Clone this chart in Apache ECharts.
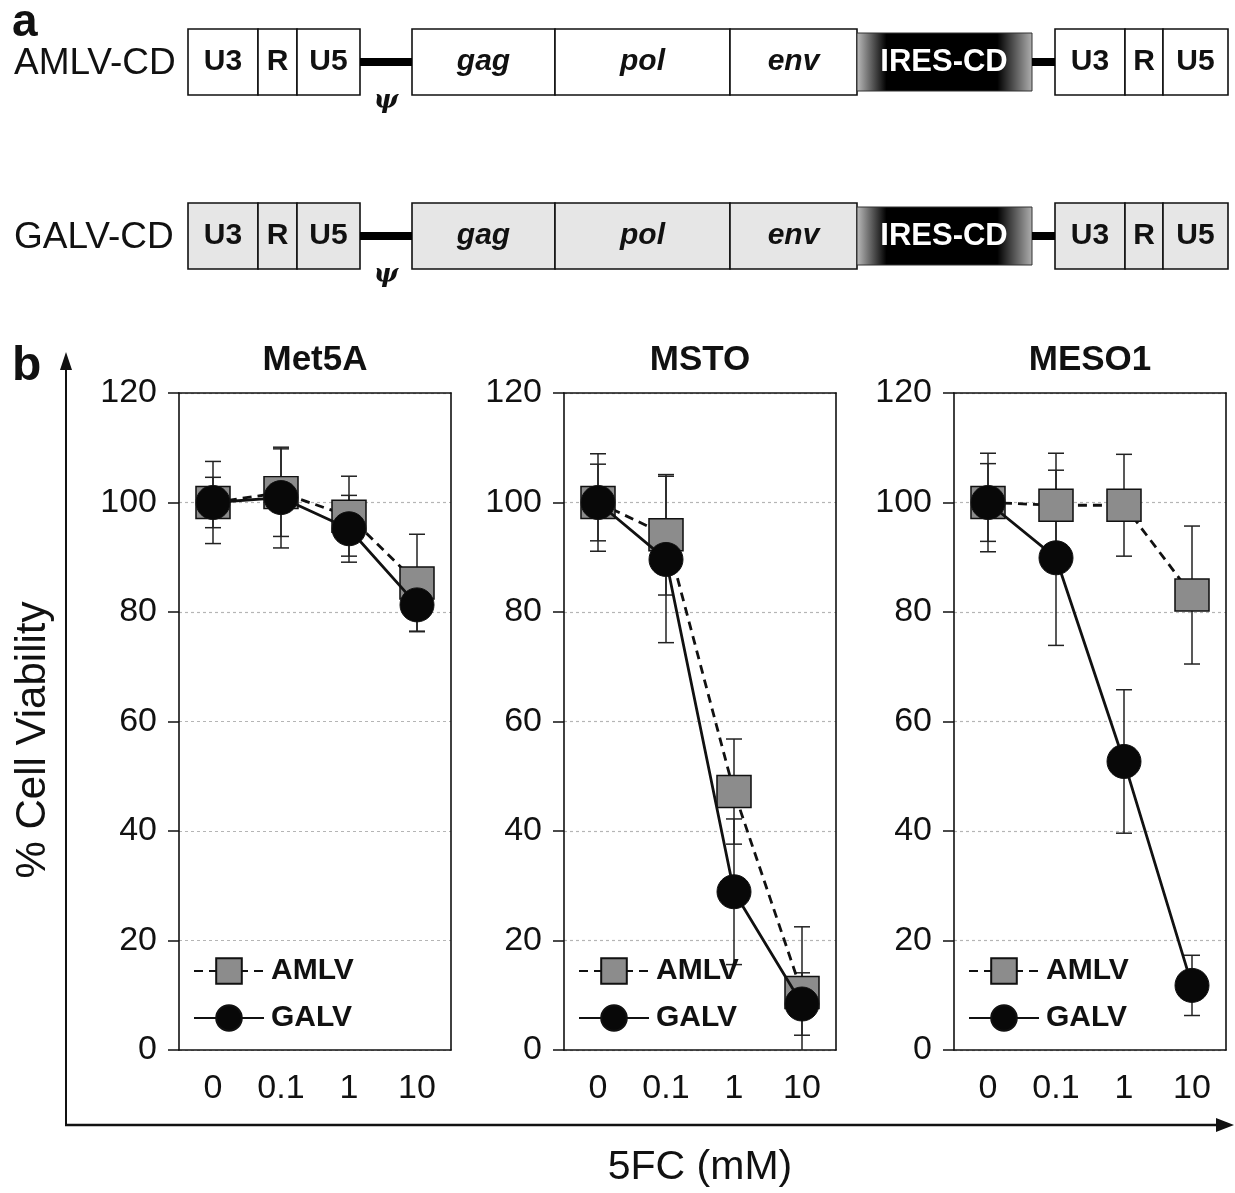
<!DOCTYPE html>
<html>
<head>
<meta charset="utf-8">
<title>AMLV-CD / GALV-CD</title>
<script src="https://cdn.jsdelivr.net/npm/echarts@6/dist/echarts.min.js"></script>
<style>
  html, body { margin: 0; padding: 0; background: #fff; }
  #chart { width: 1235px; height: 1193px; }
</style>
</head>
<body>
<div id="chart"></div>
<script>
// tick labels / categories
const doses = ['0', '0.1', '1', '10']
const cellLines = ['Met5A', 'MSTO', 'MESO1']

// % cell viability
const met5aAmlv = [100, 101.8, 97.5, 85.3]
const met5aGalv = [100, 100.9, 95.2, 81.3]
const met5aAmlvErr = [7.5, 8, 7.3, 8.9]
const met5aGalvErr = [4.6, 9.2, 6.1, 4.8]

const mstoAmlv = [100, 94.1, 47.2, 10.5]
const mstoGalv = [100, 89.6, 28.9, 8.4]
const mstoAmlvErr = [8.9, 11, 9.6, 12]
const mstoGalvErr = [7, 15.2, 13.3, 5.7]

const meso1Amlv = [100, 99.5, 99.5, 83.1]
const meso1Galv = [100, 89.9, 52.7, 11.8]
const meso1AmlvErr = [9, 9.5, 9.3, 12.6]
const meso1GalvErr = [7.1, 16, 13.1, 5.5]

const amlvMeans = [met5aAmlv, mstoAmlv, meso1Amlv]
const galvMeans = [met5aGalv, mstoGalv, meso1Galv]
const amlvErrs = [met5aAmlvErr, mstoAmlvErr, meso1AmlvErr]
const galvErrs = [met5aGalvErr, mstoGalvErr, meso1GalvErr]

const FONT = '"Liberation Sans", Arial, Helvetica, sans-serif'
const INK = '#111'

const gridLefts = [179, 564, 954]
const gridWidth = 272
const gridTop = 393
const gridHeight = 657

function errData(means, errs) {
  return means.map((m, i) => [i, m - errs[i], m + errs[i]])
}

function renderErr(params, api) {
  const i = api.value(0)
  const lo = api.coord([i, api.value(1)])
  const hi = api.coord([i, api.value(2)])
  const cap = 8
  const style = { stroke: '#222', lineWidth: 1.5 }
  return {
    type: 'group',
    children: [
      { type: 'line', shape: { x1: lo[0], y1: lo[1], x2: hi[0], y2: hi[1] }, style },
      { type: 'line', shape: { x1: hi[0] - cap, y1: hi[1], x2: hi[0] + cap, y2: hi[1] }, style },
      { type: 'line', shape: { x1: lo[0] - cap, y1: lo[1], x2: lo[0] + cap, y2: lo[1] }, style }
    ]
  }
}

const grids = [], xAxes = [], yAxes = [], titles = [], legends = [], series = []
const frameLine = { show: true, onZero: false, lineStyle: { color: INK, width: 1.6 } }

cellLines.forEach((name, k) => {
  grids.push({ left: gridLefts[k], top: gridTop, width: gridWidth, height: gridHeight })
  xAxes.push({
    type: 'category', gridIndex: k, data: doses, boundaryGap: true, position: 'bottom',
    axisLine: frameLine,
    axisTick: { length: 10, lineStyle: { color: INK, width: 1.5 } },
    axisLabel: { color: INK, fontSize: 34, fontFamily: FONT, margin: 22 },
    splitLine: { show: false }
  })
  // top edge of the frame
  xAxes.push({
    type: 'category', gridIndex: k, data: doses, position: 'top',
    axisLine: frameLine, axisTick: { show: false }, axisLabel: { show: false }, splitLine: { show: false }
  })
  yAxes.push({
    type: 'value', gridIndex: k, min: 0, max: 120, interval: 20, position: 'left',
    axisLine: frameLine,
    axisTick: { show: true, length: 11, lineStyle: { color: INK, width: 1.5 } },
    axisLabel: { color: INK, fontSize: 34, fontFamily: FONT, margin: 22 },
    splitLine: { lineStyle: { color: '#b5b5b5', type: [3, 3], width: 1.2 } }
  })
  // right edge of the frame
  yAxes.push({
    type: 'value', gridIndex: k, min: 0, max: 120, interval: 20, position: 'right',
    axisLine: frameLine, axisTick: { show: false }, axisLabel: { show: false }, splitLine: { show: false }
  })
  titles.push({
    text: name,
    left: gridLefts[k] + gridWidth / 2, top: 343, textAlign: 'center',
    padding: 0,
    textStyle: { fontSize: 35, fontWeight: 'bold', color: INK, fontFamily: FONT }
  })
  legends.push({
    data: ['AMLV', 'GALV'],
    orient: 'vertical', left: gridLefts[k] + 14, top: 956,
    itemWidth: 70, itemHeight: 32, itemGap: 17, padding: 0,
    selectedMode: false,
    textStyle: { fontSize: 30, fontWeight: 'bold', color: INK, fontFamily: FONT, padding: [0, 0, 0, 2] }
  })
  const xi = 2 * k, yi = 2 * k
  series.push({
    name: 'AMLV err', type: 'custom', xAxisIndex: xi, yAxisIndex: yi,
    renderItem: renderErr, data: errData(amlvMeans[k], amlvErrs[k]), clip: true, z: 1, silent: true
  })
  series.push({
    name: 'GALV err', type: 'custom', xAxisIndex: xi, yAxisIndex: yi,
    renderItem: renderErr, data: errData(galvMeans[k], galvErrs[k]), clip: true, z: 1, silent: true
  })
  series.push({
    name: 'AMLV', type: 'line', xAxisIndex: xi, yAxisIndex: yi,
    data: amlvMeans[k], symbol: 'rect', symbolSize: [34, 32],
    lineStyle: { color: INK, width: 2.8, type: [9, 6] },
    itemStyle: { color: '#8c8c8c', borderColor: INK, borderWidth: 1.5 },
    z: 3
  })
  series.push({
    name: 'GALV', type: 'line', xAxisIndex: xi, yAxisIndex: yi,
    data: galvMeans[k], symbol: 'circle', symbolSize: 34,
    lineStyle: { color: INK, width: 2.8 },
    itemStyle: { color: '#080808', borderColor: INK, borderWidth: 1 },
    z: 4
  })
})

// ---- panel a: vector constructs ----
const ltrLeft = [['U3', 188, 258], ['R', 258, 297], ['U5', 297, 360]]
const ltrRight = [['U3', 1055, 1125], ['R', 1125, 1163], ['U5', 1163, 1228]]
const genes = [['gag', 412, 555], ['pol', 555, 730], ['env', 730, 857]]

function construct(label, top, fill) {
  const h = 66
  const mid = top + h / 2
  const els = []
  const box = (x0, x1, text, font, color) => {
    els.push({
      type: 'rect', shape: { x: x0, y: top, width: x1 - x0, height: h },
      style: { fill, stroke: INK, lineWidth: 1.6 }
    })
    els.push({
      type: 'text', x: (x0 + x1) / 2, y: mid,
      style: { text, font, fill: color || INK, align: 'center', verticalAlign: 'middle' }
    })
  }
  ltrLeft.concat(ltrRight).forEach(s => box(s[1], s[2], s[0], 'bold 30px ' + FONT))
  genes.forEach(s => box(s[1], s[2], s[0], 'italic bold 30px ' + FONT))
  // ires-cd with soft edges
  els.push({
    type: 'rect', shape: { x: 857, y: top + 4, width: 175, height: h - 8 },
    style: {
      stroke: '#333', lineWidth: 1,
      fill: new echarts.graphic.LinearGradient(0, 0, 1, 0, [
        { offset: 0, color: '#bdbdbd' }, { offset: 0.17, color: '#000' },
        { offset: 0.8, color: '#000' }, { offset: 1, color: '#b0b0b0' }
      ])
    }
  })
  els.push({
    type: 'text', x: 944, y: mid,
    style: { text: 'IRES-CD', font: 'bold 31px ' + FONT, fill: '#fff', align: 'center', verticalAlign: 'middle' }
  })
  // linkers
  els.push({ type: 'rect', shape: { x: 360, y: mid - 4, width: 52, height: 8 }, style: { fill: '#000' } })
  els.push({ type: 'rect', shape: { x: 1032, y: mid - 4, width: 23, height: 8 }, style: { fill: '#000' } })
  els.push({
    type: 'text', x: 386, y: top + h + 6,
    style: { text: 'ψ', font: 'italic bold 26px "DejaVu Serif", serif', fill: INK, align: 'center', verticalAlign: 'middle' }
  })
  els.push({
    type: 'text', x: 14, y: mid + 2,
    style: { text: label, font: '37px ' + FONT, fill: INK, align: 'left', verticalAlign: 'middle' }
  })
  return els
}

const graphics = []
  .concat(construct('AMLV-CD', 29, '#fff'))
  .concat(construct('GALV-CD', 203, '#e6e6e6'))
  .concat([
    { type: 'text', x: 12, y: 0, style: { text: 'a', font: 'bold 46px ' + FONT, fill: INK } },
    { type: 'text', x: 12, y: 343, style: { text: 'b', font: 'bold 48px ' + FONT, fill: INK } },
    // outer axes with arrows
    { type: 'line', shape: { x1: 66, y1: 1125, x2: 66, y2: 366 }, style: { stroke: INK, lineWidth: 2 } },
    { type: 'polygon', shape: { points: [[66, 352], [60, 370], [72, 370]] }, style: { fill: INK } },
    { type: 'line', shape: { x1: 65, y1: 1125, x2: 1220, y2: 1125 }, style: { stroke: INK, lineWidth: 2.5 } },
    { type: 'polygon', shape: { points: [[1234, 1125], [1216, 1118], [1216, 1132]] }, style: { fill: INK } },
    {
      type: 'text', x: 33, y: 740, rotation: Math.PI / 2,
      style: { text: '% Cell Viability', font: '42px ' + FONT, fill: INK, align: 'center', verticalAlign: 'middle' }
    },
    {
      type: 'text', x: 700, y: 1168,
      style: { text: '5FC (mM)', font: '41px ' + FONT, fill: INK, align: 'center', verticalAlign: 'middle' }
    }
  ])

const chart = echarts.init(document.getElementById('chart'), null, { renderer: 'canvas' })
chart.setOption({
  backgroundColor: '#fff',
  animation: false,
  textStyle: { fontFamily: FONT },
  title: titles,
  legend: legends,
  grid: grids,
  xAxis: xAxes,
  yAxis: yAxes,
  series: series,
  graphic: graphics
})
</script>
</body>
</html>
